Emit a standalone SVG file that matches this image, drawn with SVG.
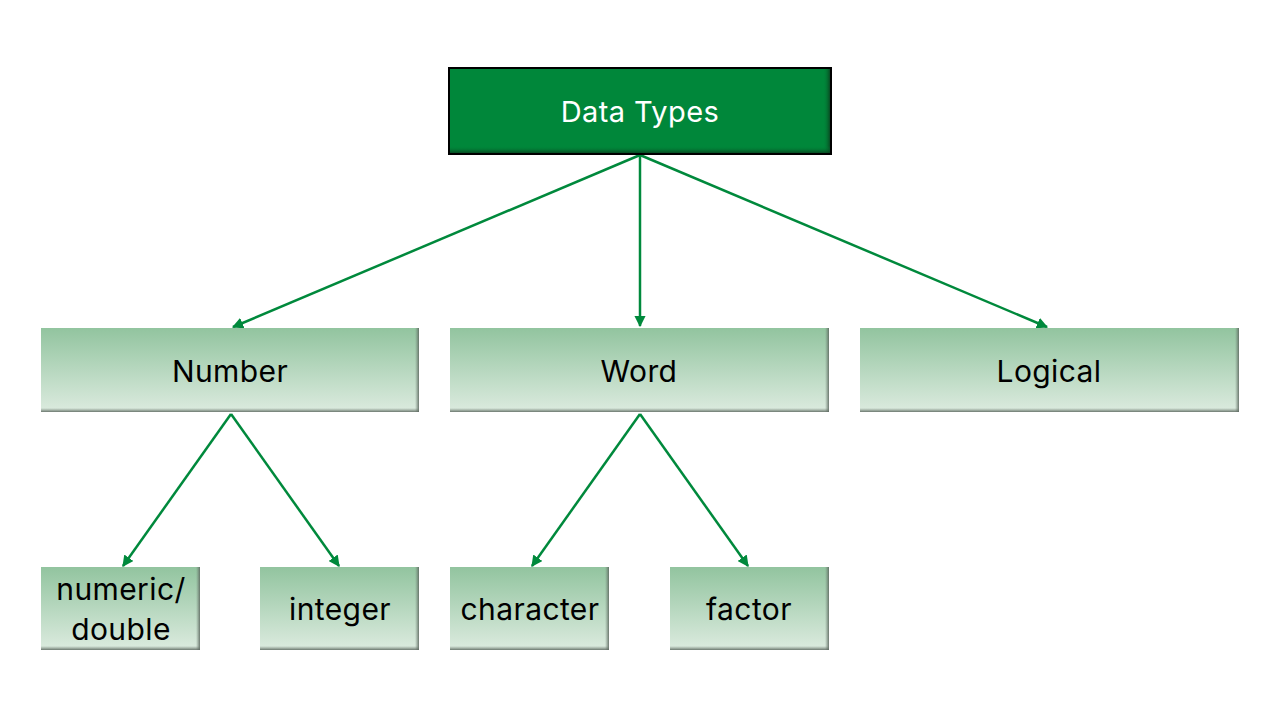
<svg xmlns="http://www.w3.org/2000/svg" width="1280" height="720" viewBox="0 0 1280 720">
<style>
.lbl{font-family:Inter,"Open Sans","Liberation Sans",sans-serif;font-size:30px;text-anchor:middle;dominant-baseline:central;letter-spacing:0.4px}
.dark{fill:#ffffff;font-size:29px}
.lite{fill:#000000}
.box{fill:url(#g)}
.conn{stroke:#00893c;stroke-width:2.5;fill:none;marker-end:url(#ah)}
</style>
<defs>
<linearGradient id="g" x1="0" y1="0" x2="0" y2="1">
<stop offset="0" stop-color="#92c49f"/>
<stop offset="1" stop-color="#dcebdf"/>
</linearGradient>
<linearGradient id="sr" x1="0" y1="0" x2="1" y2="0">
<stop offset="0" stop-color="#6f7f73" stop-opacity="0"/>
<stop offset="1" stop-color="#5f6a62" stop-opacity="0.9"/>
</linearGradient>
<linearGradient id="sb" x1="0" y1="0" x2="0" y2="1">
<stop offset="0" stop-color="#6f7f73" stop-opacity="0"/>
<stop offset="1" stop-color="#5f6a62" stop-opacity="0.9"/>
</linearGradient>
<linearGradient id="dr" x1="0" y1="0" x2="1" y2="0">
<stop offset="0" stop-color="#00873a" stop-opacity="0"/>
<stop offset="1" stop-color="#0a3a1c" stop-opacity="0.8"/>
</linearGradient>
<linearGradient id="db" x1="0" y1="0" x2="0" y2="1">
<stop offset="0" stop-color="#00873a" stop-opacity="0"/>
<stop offset="1" stop-color="#0a3a1c" stop-opacity="0.8"/>
</linearGradient>
<marker id="ah" viewBox="0 0 10 10" refX="9" refY="5" markerWidth="4.5" markerHeight="4.5" orient="auto" markerUnits="strokeWidth">
<path d="M0,0 L10,5 L0,10 z" fill="#00893c"/>
</marker>
</defs>
<g id="connectors">
<line class="conn" x1="640" y1="155" x2="233" y2="327"/>
<line class="conn" x1="640" y1="155" x2="640" y2="326"/>
<line class="conn" x1="640" y1="155" x2="1047" y2="327"/>
<line class="conn" x1="231" y1="414" x2="123" y2="566"/>
<line class="conn" x1="231" y1="414" x2="339" y2="566"/>
<line class="conn" x1="640" y1="414" x2="532" y2="566"/>
<line class="conn" x1="640" y1="414" x2="748" y2="566"/>
</g>
<g id="data-types">
<rect x="449" y="68" width="382" height="86" fill="#00873a"/>
<rect x="823" y="69" width="7" height="84" fill="url(#dr)"/>
<rect x="450" y="146" width="380" height="7" fill="url(#db)"/>
<rect x="449" y="68" width="382" height="86" fill="none" stroke="#000" stroke-width="2"/>
<text class="lbl dark" x="640" y="111">Data Types</text>
</g>
<g id="number">
<rect class="box" x="41" y="328" width="378" height="84"/>
<rect x="415" y="328" width="4" height="84" fill="url(#sr)"/>
<rect x="41" y="408" width="378" height="4" fill="url(#sb)"/>
<text class="lbl lite" x="230" y="371">Number</text>
</g>
<g id="word">
<rect class="box" x="450" y="328" width="379" height="84"/>
<rect x="825" y="328" width="4" height="84" fill="url(#sr)"/>
<rect x="450" y="408" width="379" height="4" fill="url(#sb)"/>
<text class="lbl lite" x="639" y="371">Word</text>
</g>
<g id="logical">
<rect class="box" x="860" y="328" width="379" height="84"/>
<rect x="1235" y="328" width="4" height="84" fill="url(#sr)"/>
<rect x="860" y="408" width="379" height="4" fill="url(#sb)"/>
<text class="lbl lite" x="1049" y="371">Logical</text>
</g>
<g id="numeric-double">
<rect class="box" x="41" y="567" width="159" height="83"/>
<rect x="196" y="567" width="4" height="83" fill="url(#sr)"/>
<rect x="41" y="646" width="159" height="4" fill="url(#sb)"/>
<text class="lbl lite" x="121" y="589">numeric/</text>
<text class="lbl lite" x="121" y="629">double</text>
</g>
<g id="integer">
<rect class="box" x="260" y="567" width="159" height="83"/>
<rect x="415" y="567" width="4" height="83" fill="url(#sr)"/>
<rect x="260" y="646" width="159" height="4" fill="url(#sb)"/>
<text class="lbl lite" x="340" y="609">integer</text>
</g>
<g id="character">
<rect class="box" x="450" y="567" width="159" height="83"/>
<rect x="605" y="567" width="4" height="83" fill="url(#sr)"/>
<rect x="450" y="646" width="159" height="4" fill="url(#sb)"/>
<text class="lbl lite" x="530" y="609">character</text>
</g>
<g id="factor">
<rect class="box" x="670" y="567" width="159" height="83"/>
<rect x="825" y="567" width="4" height="83" fill="url(#sr)"/>
<rect x="670" y="646" width="159" height="4" fill="url(#sb)"/>
<text class="lbl lite" x="749" y="609">factor</text>
</g>
</svg>
